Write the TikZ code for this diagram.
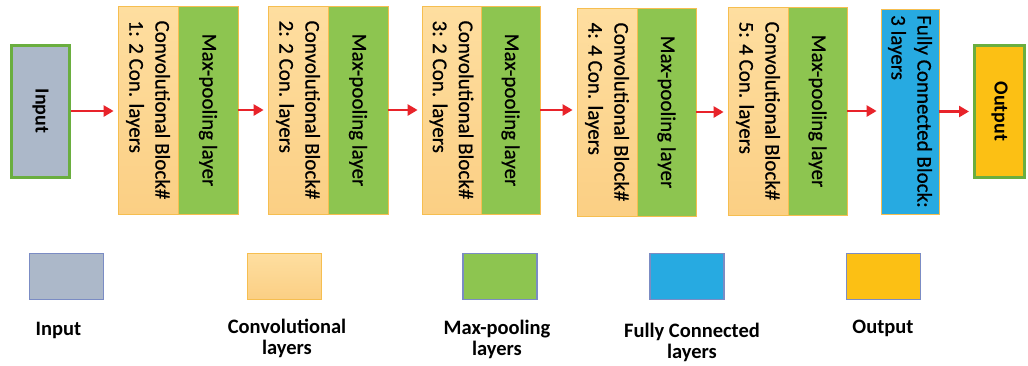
\documentclass[tikz,border=0pt]{standalone}
\usepackage{fontspec}
\setmainfont{Carlito}
\newfontfamily\blockfont{Carlito}[FakeBold=0.6]
\usetikzlibrary{arrows.meta}
\definecolor{convfill}{RGB}{253,215,145}
\definecolor{convtop}{RGB}{254,222,160}
\definecolor{convbot}{RGB}{251,207,132}
\definecolor{convline}{RGB}{246,190,80}
\definecolor{poolgreen}{RGB}{141,197,80}
\definecolor{fcblue}{RGB}{39,170,225}
\definecolor{outfill}{RGB}{252,192,20}
\definecolor{infill}{RGB}{172,184,201}
\definecolor{iogreen}{RGB}{106,174,63}
\definecolor{arrred}{RGB}{232,35,42}
\definecolor{legline}{RGB}{123,140,196}
\begin{document}
\begin{tikzpicture}[x=1pt,y=-1pt]
\tikzset{
  iobox/.style={draw=iogreen, line width=3pt, inner sep=0pt, minimum width=58pt, minimum height=132pt},
  convbox/.style={draw=convline, line width=0.8pt, top color=convtop, bottom color=convbot, inner sep=0pt, minimum width=60pt, minimum height=208pt},
  poolbox/.style={draw=convline, line width=0.8pt, fill=poolgreen, inner sep=0pt, minimum width=60pt, minimum height=208pt},
  fcbox/.style={draw=convline, line width=0.8pt, fill=fcblue, inner sep=0pt, minimum width=58pt, minimum height=205pt},
  vtext/.style={rotate=-90, align=left, inner sep=0pt, font=\blockfont\fontsize{21}{26}\selectfont},
  iotext/.style={rotate=-90, inner sep=0pt, font=\fontsize{20}{24}\selectfont\bfseries},
  arr/.style={draw=arrred, line width=2.6pt, -{Triangle[length=10pt,width=11pt]}, shorten >=4pt},
  legbox/.style={draw=legline, line width=1.2pt, inner sep=0pt, minimum width=74pt, minimum height=46pt},
  legtext/.style={font=\fontsize{20.5}{20.5}\selectfont\bfseries, align=center, anchor=base, inner sep=0pt}
}
\useasboundingbox (0,0) rectangle (1028,365);
\fill[white] (0,0) rectangle (1028,365);

% main row
\node[iobox, fill=infill] (in) at (40.5,111) {};
\node[iotext] (intext) at (in.center) {Input};

\node[convbox] (c1) at (148,110) {};
\node[poolbox] (p1) at (208,110) {};
\node[convbox] (c2) at (298,110) {};
\node[poolbox] (p2) at (358,110) {};
\node[convbox, minimum width=59pt] (c3) at (451.5,110) {};
\node[poolbox, minimum width=59pt] (p3) at (510.5,110) {};
\node[convbox] (c4) at (607,112) {};
\node[poolbox, minimum width=59pt] (p4) at (666.5,112) {};
\node[convbox] (c5) at (758,111) {};
\node[poolbox, minimum width=59pt] (p5) at (817.5,111) {};
\node[fcbox] (fc) at (910,111.5) {};
\node[iobox, fill=outfill, minimum width=50pt] (out) at (999.5,111.5) {};
\node[iotext] (outtext) at (out.center) {Output};

\node[vtext] (t1) at (c1.center) {Convolutional Block\#\\1: 2 Con. layers};
\node[vtext] (t2) at (c2.center) {Convolutional Block\#\\2: 2 Con. layers};
\node[vtext] (t3) at (c3.center) {Convolutional Block\#\\3: 2 Con. layers};
\node[vtext] (t4) at (c4.center) {Convolutional Block\#\\4: 4 Con. layers};
\node[vtext] (t5) at (c5.center) {Convolutional Block\#\\5: 4 Con. layers};
\node[vtext] (q1) at (p1.center) {Max-pooling layer};
\node[vtext] (q2) at (p2.center) {Max-pooling layer};
\node[vtext] (q3) at (p3.center) {Max-pooling layer};
\node[vtext] (q4) at (p4.center) {Max-pooling layer};
\node[vtext] (q5) at (p5.center) {Max-pooling layer};
\node[vtext] (tfc) at (fc.center) {Fully Connected Block:\\3 layers};

% arrows
\draw[arr] (in.east) -- (c1.west |- in.east);
\draw[arr] (p1.east) -- (c2.west |- p1.east);
\draw[arr] (p2.east) -- (c3.west |- p2.east);
\draw[arr] (p3.east) -- (c4.west |- p3.east);
\draw[arr] (p4.east) -- (c5.west |- p4.east);
\draw[arr] (p5.east) -- (fc.west |- p5.east);
\draw[arr] (fc.east) -- (out.west |- fc.east);

% legend
\node[legbox, fill=infill] (lin) at (66.5,276.5) {};
\node[legbox, top color=convtop, bottom color=convbot, draw=convline] (lconv) at (284.5,276.5) {};
\node[legbox, fill=poolgreen] (lpool) at (500,276.5) {};
\node[legbox, fill=fcblue] (lfc) at (687,276.5) {};
\node[legbox, fill=outfill] (lout) at (883.5,276.5) {};

\node[legtext] (lint) at (58.5,335) {Input};
\node[legtext] (lconvt) at (287,354) {Convolutional\\layers};
\node[legtext] (lpoolt) at (497,355) {Max-pooling\\layers};
\node[legtext] (lfct) at (692,358) {Fully Connected\\layers};
\node[legtext] (loutt) at (883,333) {Output};
\end{tikzpicture}
\end{document}
